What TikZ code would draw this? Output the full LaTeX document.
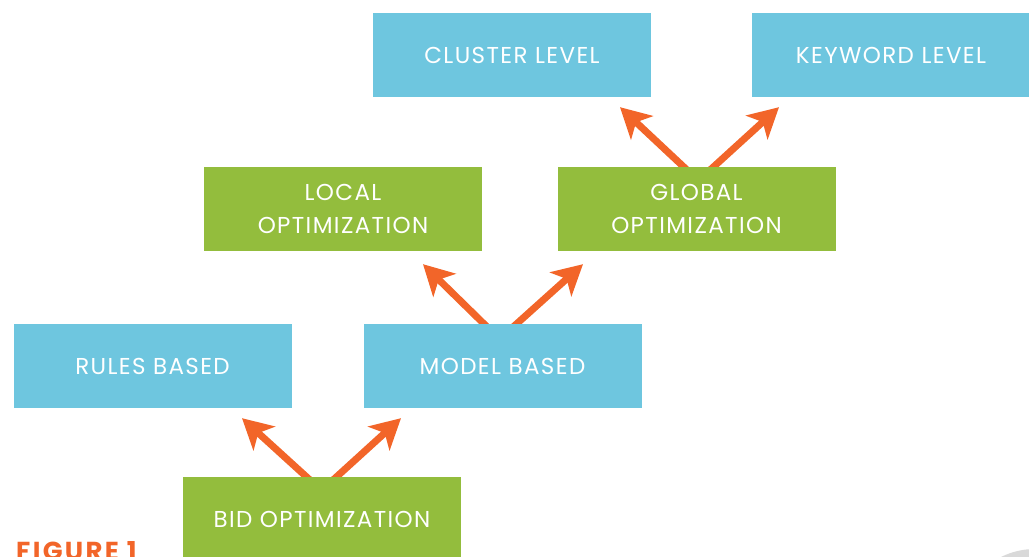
\documentclass[tikz,border=0pt]{standalone}
\usepackage{fontspec}
\setmainfont{Poppins}[LetterSpace=6]
\usetikzlibrary{arrows.meta,backgrounds}
\definecolor{boxblue}{HTML}{6EC6DF}
\definecolor{boxgreen}{HTML}{93BD3D}
\definecolor{arrorange}{HTML}{F26529}
\definecolor{pagegray}{HTML}{D9D9D9}

\begin{document}
\begin{tikzpicture}[x=1pt,y=1pt,
  box/.style={minimum width=278pt,minimum height=84pt,inner sep=0pt,
    text=white,align=center,font=\fontsize{23}{33}\selectfont},
  blue box/.style={box,fill=boxblue},
  green box/.style={box,fill=boxgreen},
  up/.style={arrorange,line width=7pt,-{Stealth[length=30pt,width=32pt,inset=8pt]}}]
\useasboundingbox (0,0) rectangle (1029,557);
\clip (0,0) rectangle (1029,557);

\node[blue box] (cluster) at (512,502) {CLUSTER LEVEL};
\node[blue box] (keyword) at (891,502) {KEYWORD LEVEL};
\node[green box] (local) at (343,348) {LOCAL\\OPTIMIZATION};
\node[green box] (global) at (696.5,348) {GLOBAL\\OPTIMIZATION};
\node[blue box] (rules) at (152.5,191) {RULES BASED};
\node[blue box] (model) at (502.5,191) {MODEL BASED};
\node[green box] (bid) at (322,38) {BID OPTIMIZATION};
\node[anchor=base west,inner sep=0pt,text=arrorange,
  font=\fontsize{26}{30}\selectfont\bfseries\addfontfeature{LetterSpace=9}] (fig) at (16,-4) {FIGURE 1};
\fill[pagegray] (1035,-68) circle (76);

\begin{scope}[on background layer]
\draw[up] ([xshift=-9pt,yshift=-6pt]bid.north) -- ([xshift=89.5pt,yshift=-10pt]rules.south);
\draw[up] ([xshift=8pt,yshift=-6pt]bid.north) -- ([xshift=-101.5pt,yshift=-10pt]model.south);
\draw[up] ([xshift=-12.5pt,yshift=-6pt]model.north) -- ([xshift=80pt,yshift=-13pt]local.south);
\draw[up] ([xshift=7.5pt,yshift=-6pt]model.north) -- ([xshift=-113.5pt,yshift=-13pt]global.south);
\draw[up] ([xshift=-6.5pt,yshift=-6pt]global.north) -- ([xshift=108pt,yshift=-10pt]cluster.south);
\draw[up] ([xshift=10.5pt,yshift=-6pt]global.north) -- ([xshift=-112pt,yshift=-10pt]keyword.south);
\end{scope}
\end{tikzpicture}
\end{document}
